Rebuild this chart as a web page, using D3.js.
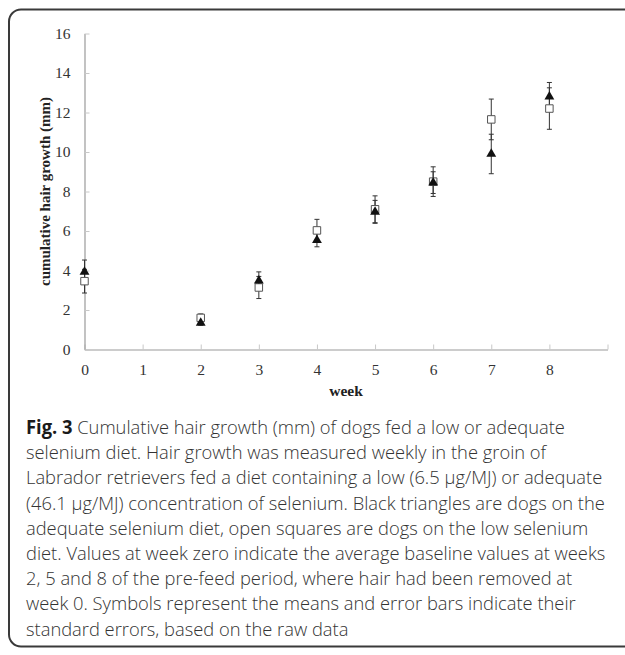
<!DOCTYPE html>
<html>
<head>
<meta charset="utf-8">
<script src="https://cdn.jsdelivr.net/npm/d3@7"></script>
<style>
  body { margin: 0; background: #fff; }
  svg { display: block; }
</style>
</head>
<body>
<svg width="625" height="655"></svg>
<script>
// weeks with measurements (week 1 has none)
const weeks = [0, 2, 3, 4, 5, 6, 7, 8];
// adequate selenium diet (black triangles)
const adequateMean = [3.93, 1.35, 3.48, 5.54, 6.97, 8.45, 9.9, 12.8];
const adequateSE = [0.6, 0.12, 0.45, 0.34, 0.58, 0.55, 1.0, 0.72];
// low selenium diet (open squares)
const lowMean = [3.46, 1.6, 3.14, 6.03, 7.1, 8.5, 11.65, 12.2];
const lowSE = [0.6, 0.2, 0.56, 0.56, 0.68, 0.75, 1.03, 1.05];

const xTicks = [0, 1, 2, 3, 4, 5, 6, 7, 8, 9];
const xLabels = ['0', '1', '2', '3', '4', '5', '6', '7', '8', ''];
const yTicks = [0, 2, 4, 6, 8, 10, 12, 14, 16];

const captionBold = 'Fig. 3';
const captionLines = [
  ' Cumulative hair growth (mm) of dogs fed a low or adequate',
  'selenium diet. Hair growth was measured weekly in the groin of',
  'Labrador retrievers fed a diet containing a low (6.5 \u00b5g/MJ) or adequate',
  '(46.1 \u00b5g/MJ) concentration of selenium. Black triangles are dogs on the',
  'adequate selenium diet, open squares are dogs on the low selenium',
  'diet. Values at week zero indicate the average baseline values at weeks',
  '2, 5 and 8 of the pre-feed period, where hair had been removed at',
  'week 0. Symbols represent the means and error bars indicate their',
  'standard errors, based on the raw data'
];

const svg = d3.select('svg');

// frame round figure + caption, open to the right
svg.append('rect')
    .attr('x', 9)
    .attr('y', 9.5)
    .attr('width', 700)
    .attr('height', 637)
    .attr('rx', 12)
    .attr('fill', 'none')
    .attr('stroke', '#3a3a3a')
    .attr('stroke-width', 2);

const x = d3.scaleLinear().domain([0, 9]).range([84.5, 607.5]);
const y = d3.scaleLinear().domain([0, 16]).range([349.5, 33.5]);

const serif = '"Liberation Serif", "Times New Roman", serif';

// x axis
const xAxis = svg.append('g')
    .attr('transform', `translate(0,${y(0)})`)
    .call(d3.axisBottom(x)
        .tickValues(xTicks)
        .tickFormat((d, i) => xLabels[i])
        .tickSizeInner(-5)
        .tickSizeOuter(0)
        .tickPadding(14));

// y axis
const yAxis = svg.append('g')
    .attr('transform', `translate(${x(0)},0)`)
    .call(d3.axisLeft(y)
        .tickValues(yTicks)
        .tickSizeInner(-5)
        .tickSizeOuter(0)
        .tickPadding(14));

[xAxis, yAxis].forEach(ax => {
  ax.select('.domain').attr('stroke', '#9a9a9a').attr('stroke-width', 1.2);
  ax.selectAll('.tick line').attr('stroke', '#c8c8c8');
  ax.selectAll('.tick text')
      .attr('fill', '#333')
      .style('font-family', serif)
      .style('font-size', '15.5px');
});

// axis titles
svg.append('text')
    .attr('x', (x(0) + x(9)) / 2)
    .attr('y', 396)
    .attr('text-anchor', 'middle')
    .style('font-family', serif)
    .style('font-size', '15.5px')
    .style('font-weight', 'bold')
    .attr('fill', '#222')
    .text('week');

svg.append('text')
    .attr('transform', `translate(50,${(y(0) + y(16)) / 2}) rotate(-90)`)
    .attr('text-anchor', 'middle')
    .style('font-family', serif)
    .style('font-size', '15px')
    .style('font-weight', 'bold')
    .attr('fill', '#222')
    .text('cumulative hair growth (mm)');

// error bars
const capW = 2.5;
function errorBars(means, ses) {
  const g = svg.append('g')
      .attr('stroke', '#333')
      .attr('stroke-width', 1);
  weeks.forEach((w, i) => {
    const cx = x(w);
    const top = y(means[i] + ses[i]);
    const bot = y(means[i] - ses[i]);
    g.append('line').attr('x1', cx).attr('x2', cx).attr('y1', top).attr('y2', bot);
    g.append('line').attr('x1', cx - capW).attr('x2', cx + capW).attr('y1', top).attr('y2', top);
    g.append('line').attr('x1', cx - capW).attr('x2', cx + capW).attr('y1', bot).attr('y2', bot);
  });
}

errorBars(lowMean, lowSE);
errorBars(adequateMean, adequateSE);

// open squares (low selenium)
svg.append('g')
  .selectAll('path')
  .data(weeks)
  .join('path')
    .attr('d', d3.symbol(d3.symbolSquare, 56))
    .attr('transform', (d, i) => `translate(${x(d)},${y(lowMean[i])})`)
    .attr('fill', '#fff')
    .attr('stroke', '#555')
    .attr('stroke-width', 1);

// black triangles (adequate selenium)
svg.append('g')
  .selectAll('path')
  .data(weeks)
  .join('path')
    .attr('d', d3.symbol(d3.symbolTriangle, 42))
    .attr('transform', (d, i) => `translate(${x(d)},${y(adequateMean[i])})`)
    .attr('fill', '#111');

// caption
const sans = '"Open Sans", "Noto Sans", sans-serif';
const caption = svg.append('g')
    .attr('transform', 'translate(26,0)');

const lineH = 25.2;
const firstBase = 434;

const lines = caption.selectAll('text.cap')
  .data(captionLines)
  .join('text')
    .attr('class', 'cap')
    .attr('x', 0)
    .attr('y', (d, i) => firstBase + i * lineH)
    .style('font-family', sans)
    .style('font-size', '19px')
    .style('font-weight', 300)
    .attr('fill', '#333');

lines.each(function(d, i) {
  const t = d3.select(this);
  if (i === 0) {
    t.append('tspan').style('font-weight', 'bold').attr('fill', '#1a1a1a').text(captionBold);
  }
  t.append('tspan').text(d);
});

// squeeze the caption horizontally so the longest line fits, like the condensed original
let widest = 0;
lines.each(function() { widest = Math.max(widest, this.getComputedTextLength()); });
const target = 580;
const sx = widest > target ? target / widest : 1;
caption.attr('transform', `translate(26,0) scale(${sx},1)`);
</script>
</body>
</html>
